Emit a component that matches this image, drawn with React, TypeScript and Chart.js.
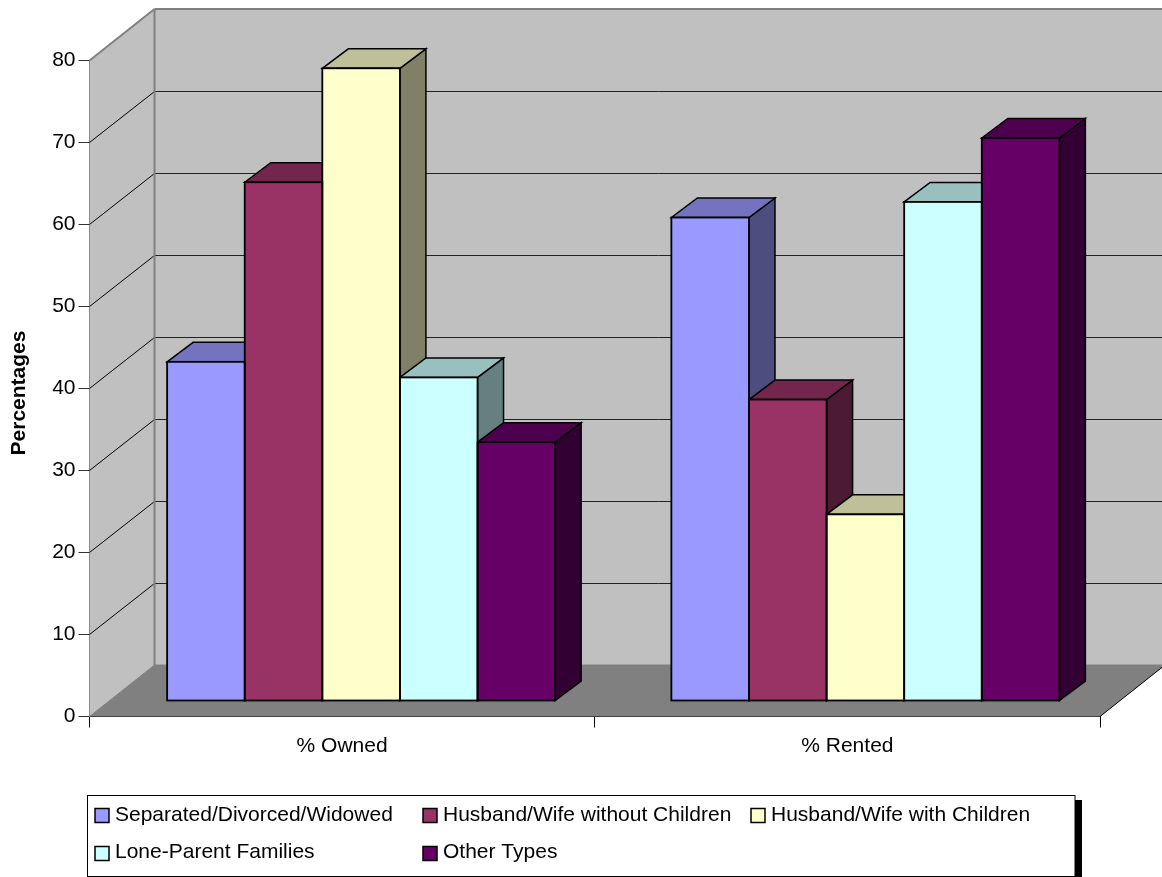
import React, { useEffect, useRef } from "react";
import { Chart, registerables } from "chart.js";

Chart.register(...registerables);

const tenures = ["% Owned", "% Rented"];
const separated = [41.3, 58.9];
const withoutChildren = [63.2, 36.7];
const withChildren = [77.1, 22.7];
const loneParent = [39.4, 60.8];
const otherTypes = [31.5, 68.6];
const yTicks = [0, 10, 20, 30, 40, 50, 60, 70, 80];

const familyTypes = [
  "Separated/Divorced/Widowed",
  "Husband/Wife without Children",
  "Husband/Wife with Children",
  "Lone-Parent Families",
  "Other Types",
];
const fronts = ["#9999FF", "#993366", "#FFFFCC", "#CCFFFF", "#660066"];
const tops = ["#7373BF", "#73264D", "#BFBF99", "#99BFBF", "#4D004D"];
const sides = ["#4D4D80", "#4D1A33", "#808066", "#668080", "#330033"];

const FONT = '"Liberation Sans", Arial, sans-serif';
const FONT_SIZE = 21;

// Receding offset of the box: how far the back wall sits from the front plane.
const WALL_DX = 65;
const WALL_DY = -51.5;
// Receding offset of a single bar.
const BAR_DX = 26;
const BAR_DY = -19.5;

function poly(ctx: CanvasRenderingContext2D, pts: number[][], fill?: string, stroke?: string, lw = 1) {
  ctx.beginPath();
  pts.forEach(([x, y], i) => (i ? ctx.lineTo(x, y) : ctx.moveTo(x, y)));
  ctx.closePath();
  if (fill) {
    ctx.fillStyle = fill;
    ctx.fill();
  }
  if (stroke) {
    ctx.strokeStyle = stroke;
    ctx.lineWidth = lw;
    ctx.stroke();
  }
}

function line(ctx: CanvasRenderingContext2D, x0: number, y0: number, x1: number, y1: number, color: string, lw = 1) {
  ctx.beginPath();
  ctx.moveTo(x0, y0);
  ctx.lineTo(x1, y1);
  ctx.strokeStyle = color;
  ctx.lineWidth = lw;
  ctx.stroke();
}

// Moves the hidden bar axis along the floor, away from the left wall.
const shiftBars = {
  id: "shiftBars",
  afterLayout(chart: any) {
    const s = chart.scales.xBars;
    s.left += 19.5;
    s.right += 17.5;
    s.configure();
  },
};

// Walls, floor and gridlines behind the bars, then the bar tops and sides.
const box3d = {
  id: "box3d",
  beforeDatasetsDraw(chart: any) {
    const { ctx, scales } = chart;
    const y = scales.y;
    const x = scales.x;
    const l = x.left;
    const r = x.right;
    const y0 = y.getPixelForValue(0);
    const yMax = y.getPixelForValue(80);
    const backL = l + WALL_DX;
    const backR = r + WALL_DX;
    ctx.save();
    poly(ctx, [[backL, yMax + WALL_DY], [backR, yMax + WALL_DY], [backR, y0 + WALL_DY], [backL, y0 + WALL_DY]], "#C0C0C0");
    poly(ctx, [[l, yMax], [backL, yMax + WALL_DY], [backL, y0 + WALL_DY], [l, y0]], "#C0C0C0");
    poly(ctx, [[l, y0], [backL, y0 + WALL_DY], [backR, y0 + WALL_DY], [r, y0]], "#808080");

    yTicks.forEach((v) => {
      if (v === 0 || v === 80) return;
      const py = y.getPixelForValue(v);
      const backY = Math.floor(py + WALL_DY) + 0.5;
      line(ctx, l, py, backL, backY, "#000000", 1);
      line(ctx, backL, backY, backR, backY, "#222222", 1);
    });
    line(ctx, l, yMax, backL, yMax + WALL_DY, "#808080", 2);
    line(ctx, backL, yMax + WALL_DY, backR, yMax + WALL_DY, "#808080", 2);
    line(ctx, backL, yMax + WALL_DY, backL, y0 + WALL_DY, "#808080", 2);
    line(ctx, backL, y0 + WALL_DY, backR, y0 + WALL_DY, "#808080", 1);
    line(ctx, l, y0, backL, y0 + WALL_DY, "#808080", 1);
    line(ctx, r, y0, backR, y0 + WALL_DY, "#000000", 1);

    const metas = chart.data.datasets.map((_: unknown, i: number) => chart.getDatasetMeta(i));
    tenures.forEach((_, c) => {
      metas.forEach((m: any, d: number) => {
        const b = m.data[c];
        const left = b.x - b.width / 2;
        const right = b.x + b.width / 2;
        poly(ctx, [[right, b.y], [right + BAR_DX, b.y + BAR_DY], [right + BAR_DX, b.base + BAR_DY], [right, b.base]], sides[d], "#000000", 1.5);
        poly(ctx, [[left, b.y], [left + BAR_DX, b.y + BAR_DY], [right + BAR_DX, b.y + BAR_DY], [right, b.y]], tops[d], "#000000", 1.5);
      });
    });
    ctx.restore();
  },
  // Bar outlines are centred on the bar edges, so neighbours share one line.
  afterDatasetsDraw(chart: any) {
    const { ctx } = chart;
    ctx.save();
    chart.data.datasets.forEach((_: unknown, i: number) => {
      chart.getDatasetMeta(i).data.forEach((b: any) => {
        ctx.strokeStyle = "#000000";
        ctx.lineWidth = 1.8;
        ctx.strokeRect(b.x - b.width / 2, b.y, b.width, b.base - b.y);
      });
    });
    ctx.restore();
  },
  // Axis title and legend panel.
  afterDraw(chart: any) {
    const { ctx } = chart;
    ctx.save();
    ctx.translate(19.5, 393);
    ctx.rotate(-Math.PI / 2);
    ctx.font = `bold ${FONT_SIZE}px ${FONT}`;
    ctx.fillStyle = "#000000";
    ctx.textAlign = "center";
    ctx.textBaseline = "middle";
    ctx.fillText("Percentages", 0, 0);
    ctx.restore();

    ctx.save();
    const px = 87.5;
    const py = 795.5;
    const pw = 987.5;
    const ph = 81;
    ctx.fillStyle = "#000000";
    ctx.fillRect(px + pw, py + 4.5, 7, ph - 4);
    ctx.fillStyle = "#FFFFFF";
    ctx.fillRect(px, py, pw, ph);
    ctx.strokeStyle = "#000000";
    ctx.lineWidth = 1;
    ctx.strokeRect(px, py, pw, ph);

    const cols = [95, 423, 751];
    const rows = [808.5, 846.5];
    const baselines = [821, 858];
    ctx.font = `${FONT_SIZE}px ${FONT}`;
    ctx.textBaseline = "alphabetic";
    ctx.textAlign = "left";
    chart.data.datasets.forEach((ds: any, i: number) => {
      const col = cols[i < 3 ? i : i - 3];
      const row = i < 3 ? 0 : 1;
      ctx.fillStyle = ds.backgroundColor;
      ctx.fillRect(col, rows[row], 14, 14);
      ctx.strokeStyle = "#000000";
      ctx.lineWidth = 1.5;
      ctx.strokeRect(col, rows[row], 14, 14);
      ctx.fillStyle = "#000000";
      ctx.fillText(ds.label, col + 20, baselines[row]);
    });
    ctx.restore();
  },
};

export default function App() {
  const ref = useRef<HTMLCanvasElement>(null);
  useEffect(() => {
    document.body.style.margin = "0";
    const make = (label: string, data: number[], i: number) => ({
      label,
      data,
      xAxisID: "xBars",
      yAxisID: "yBars",
      backgroundColor: fronts[i],
      borderWidth: 0,
      categoryPercentage: 388 / 504.25,
      barPercentage: 1,
    });
    const pxPerUnit = (716.5 - 60.5) / 80;
    const chart = new Chart(ref.current as HTMLCanvasElement, {
      type: "bar",
      data: {
        labels: tenures,
        datasets: [separated, withoutChildren, withChildren, loneParent, otherTypes].map((d, i) =>
          make(familyTypes[i], d, i)
        ),
      },
      options: {
        responsive: false,
        animation: false,
        layout: { padding: { top: 60.5, right: 62, left: 0, bottom: 0 } },
        plugins: { legend: { display: false }, tooltip: { enabled: false } },
        scales: {
          x: {
            type: "category",
            position: "bottom",
            offset: true,
            grid: { drawOnChartArea: false, color: "#000000", tickLength: 11, offset: true },
            border: { color: "#000000" },
            ticks: { color: "#000000", font: { family: FONT, size: FONT_SIZE }, padding: 6, maxRotation: 0 },
            afterFit(s: any) {
              s.height = 877 - 716.5;
            },
          },
          xBars: { type: "category", display: false, offset: true, labels: tenures },
          y: {
            min: 0,
            max: 80,
            afterBuildTicks(s: any) {
              s.ticks = yTicks.map((value) => ({ value }));
            },
            grid: { drawOnChartArea: false, color: "#333333", tickLength: 11 },
            border: { color: "#555555", width: 1.5 },
            ticks: { color: "#000000", font: { family: FONT, size: FONT_SIZE }, padding: 3 },
            afterFit(s: any) {
              s.width = 89.5;
            },
          },
          // Bars stand on a plane set back from the axis, at the same vertical scale.
          yBars: {
            display: false,
            min: -(716.5 - 700.5) / pxPerUnit,
            max: (700.5 - 60.5) / pxPerUnit,
          },
        },
      },
      plugins: [shiftBars, box3d],
    } as any);
    return () => chart.destroy();
  }, []);
  return <canvas ref={ref} width={1162} height={877} style={{ display: "block" }} />;
}
